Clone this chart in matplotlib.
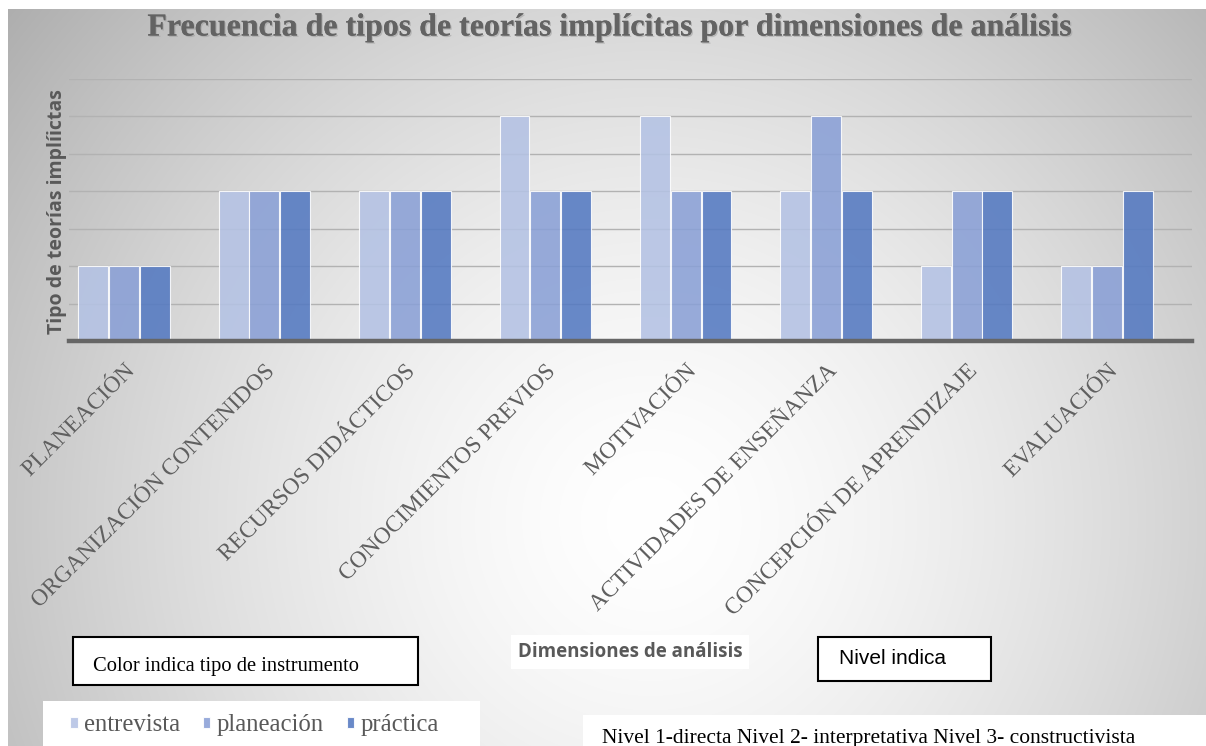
import numpy as np
import matplotlib
matplotlib.use("Agg")
import matplotlib.pyplot as plt
from matplotlib.patches import Rectangle
import matplotlib.patheffects as pe

categories = ["PLANEACIÓN", "ORGANIZACIÓN CONTENIDOS", "RECURSOS DIDÁCTICOS",
              "CONOCIMIENTOS PREVIOS", "MOTIVACIÓN", "ACTIVIDADES DE ENSEÑANZA",
              "CONCEPCIÓN DE APRENDIZAJE", "EVALUACIÓN"]
series_names = ["entrevista", "planeación", "práctica"]
entrevista = [1, 2, 2, 3, 3, 2, 1, 1]
planeacion = [1, 2, 2, 2, 2, 3, 2, 1]
practica = [1, 2, 2, 2, 2, 2, 2, 2]
series_values = [entrevista, planeacion, practica]
colors = ["#b4c2e4", "#8aa0d6", "#5479c1"]

W, H = 1206, 746
fig = plt.figure(figsize=(W / 100, H / 100), dpi=100)
fig.patch.set_facecolor("white")

# background radial gradient
bg = fig.add_axes([8 / W, 0, 1 - 8 / W, 1 - 9 / H], zorder=-10)
bw, bh = W - 8, H - 9
xx, yy = np.meshgrid(np.arange(bw) + 8, np.arange(bh) + 9)
cx, cy, rx, ry = 650, 520, 700, 700
d = np.sqrt(((xx - cx) / rx) ** 2 + ((yy - cy) / ry) ** 2)
v = 1 - 0.25 * np.clip(d, 0, 1.2) ** 1.5
img = np.dstack([v, v, v])
bg.imshow(img, aspect="auto", extent=(0, 1, 0, 1), interpolation="bilinear")
bg.set_axis_off()

left, right, top, bottom = 69, 1192, 79, 341
ax = fig.add_axes([left / W, 1 - bottom / H, (right - left) / W, (bottom - top) / H])
ax.patch.set_alpha(0)

x = np.arange(len(categories))
bw_ = 0.213
for i, (vals, c, name) in enumerate(zip(series_values, colors, series_names)):
    ax.bar(x + (i - 1) * bw_ * 1.03, vals, width=bw_, color=c, alpha=0.88,
           edgecolor=(1, 1, 1, 0.6), linewidth=0.8, label=name, zorder=3)

step = 140.4
ax.set_xlim(-(124 - left) / step, len(categories) - 1 + (right - 1107) / step)
ax.set_ylim(0, 3.5)
ax.set_yticks(np.arange(0.5, 3.51, 0.5))
ax.yaxis.grid(True, color="#b2b2b2", linewidth=1.0, zorder=0)
ax.set_axisbelow(True)
ax.tick_params(axis="y", length=0, labelleft=False)
ax.tick_params(axis="x", length=0, pad=14)
for s in ["top", "right", "left"]:
    ax.spines[s].set_visible(False)
ax.spines["bottom"].set_color("#666666")
ax.spines["bottom"].set_linewidth(3.2)
ax.spines["bottom"].set_zorder(5)

ax.set_xticks(x)
ax.set_xticklabels(categories, rotation=45, ha="right", va="top", rotation_mode="anchor",
                   family="Liberation Serif", fontsize=16.8, color="#606060")
for t in ax.get_xticklabels():
    t.set_path_effects([pe.SimpleLineShadow(offset=(0.8, -0.8), shadow_color="#aaaaaa", alpha=0.35),
                        pe.Normal()])

fig.text(611 / W, 1 - 28 / H, "Frecuencia de tipos de teorías implícitas por dimensiones de análisis",
         ha="center", va="center", family="Liberation Serif", weight="bold", fontsize=23,
         color="#636363",
         path_effects=[pe.withSimplePatchShadow(offset=(1.0, -1.0), shadow_rgbFace="#999999", alpha=0.5), pe.Normal()])

fig.text(57 / W, 1 - 212 / H, "Tipo de teorías implíictas", rotation=90, ha="center", va="center",
         family="Open Sans", weight="bold", fontsize=14, color="#595959")

fig.text(630 / W, 1 - 652 / H, "Dimensiones de análisis", ha="center", va="center",
         family="Open Sans", weight="bold", fontsize=13.5, color="#595959",
         bbox=dict(boxstyle="square,pad=0.35", facecolor="white", edgecolor="none"))

# annotation boxes
fig.patches.append(Rectangle((73 / W, 1 - 685 / H), (418 - 73) / W, (685 - 637) / H,
                             transform=fig.transFigure, facecolor="white", edgecolor="black",
                             linewidth=1.5, zorder=2))
fig.text(93 / W, 1 - 671 / H, "Color indica tipo de instrumento", ha="left", va="baseline",
         family="Liberation Serif", fontsize=14.8, color="black", zorder=3)

fig.patches.append(Rectangle((818 / W, 1 - 681 / H), (991 - 818) / W, (681 - 637) / H,
                             transform=fig.transFigure, facecolor="white", edgecolor="black",
                             linewidth=1.5, zorder=2))
fig.text(839 / W, 1 - 659 / H, "Nivel indica", ha="left", va="center",
         family="Liberation Sans", fontsize=15, color="black", zorder=3)

fig.patches.append(Rectangle((583 / W, 0), (W - 583) / W, (746 - 715) / H,
                             transform=fig.transFigure, facecolor="white", edgecolor="none", zorder=2))
fig.text(602 / W, 1 - 738 / H, "Nivel 1-directa Nivel 2- interpretativa Nivel 3- constructivista",
         ha="left", va="center", family="Liberation Serif", fontsize=15.5, color="black", zorder=3)

# legend
fig.patches.append(Rectangle((43 / W, 0), (480 - 43) / W, (746 - 701) / H,
                             transform=fig.transFigure, facecolor="white", edgecolor="none", zorder=2))
handles, labels = ax.get_legend_handles_labels()
leg = fig.legend(handles, labels, loc="center left", bbox_to_anchor=(48 / W, 1 - 725 / H),
                 ncol=3, frameon=False, prop={"family": "Liberation Serif", "size": 17.8},
                 handlelength=0.3, handleheight=0.3, handletextpad=0.25, columnspacing=0.93,
                 labelcolor="#595959")
leg.set_zorder(4)

fig.savefig("out.png", dpi=100)
